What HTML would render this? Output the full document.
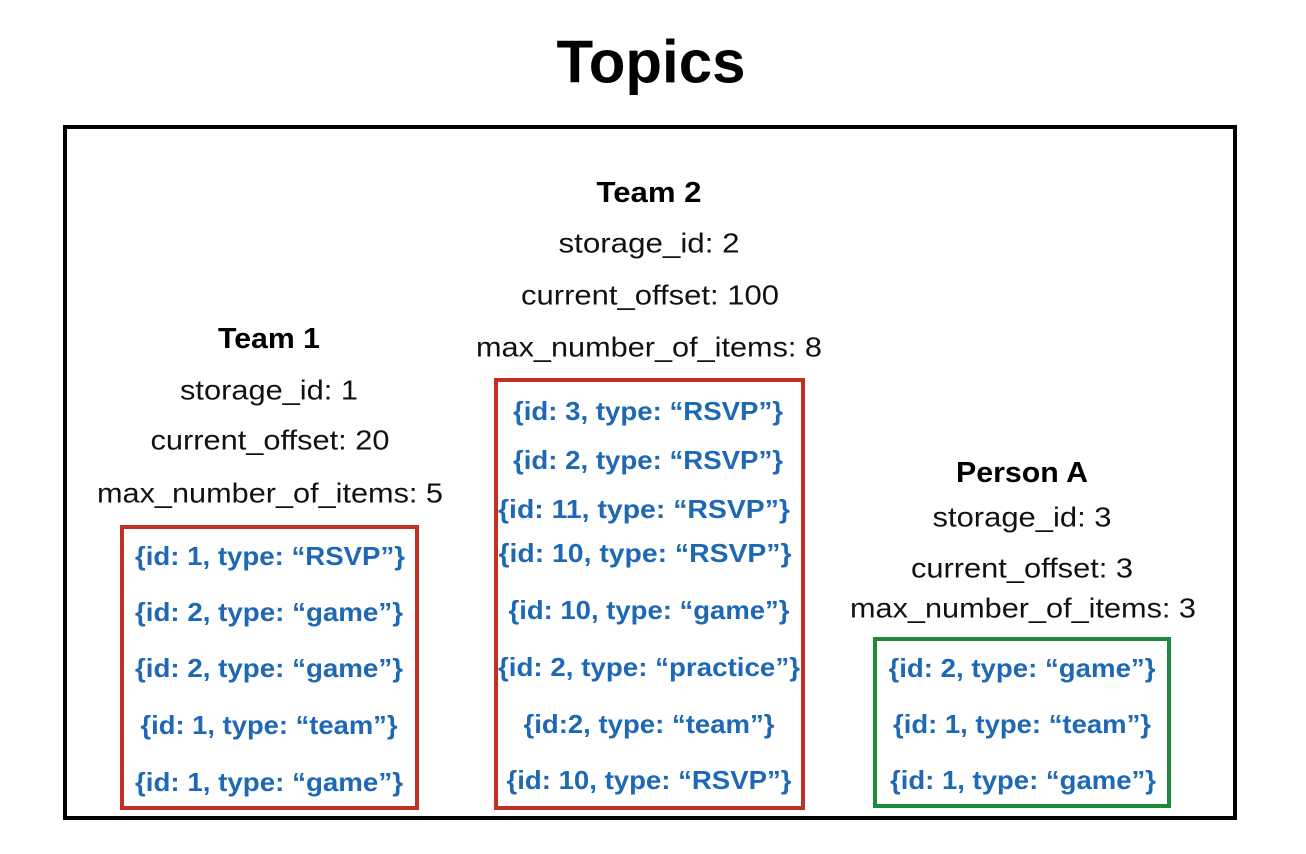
<!DOCTYPE html>
<html><head><meta charset="utf-8"><style>
html,body{margin:0;padding:0;background:#fff;}
svg{display:block;}
text{font-family:"Liberation Sans",Arial,sans-serif;text-anchor:middle;dominant-baseline:central;}
.b{font-weight:bold;font-size:29px;fill:#000;}
.r{font-size:28px;fill:#111;}
.i{font-weight:bold;font-size:26px;fill:#1e68b4;}
</style></head><body>
<svg width="1306" height="854" viewBox="0 0 1306 854">
<rect width="1306" height="854" fill="#fff"/>
<text x="651" y="62" style="font-weight:bold;font-size:60px;">Topics</text>
<rect x="65" y="127" width="1170" height="691" fill="none" stroke="#000" stroke-width="4"/>
<rect x="122" y="527" width="295" height="281" fill="none" stroke="#c13027" stroke-width="4"/>
<rect x="496" y="380" width="307" height="428" fill="none" stroke="#c13027" stroke-width="4"/>
<rect x="875" y="639" width="294" height="167" fill="none" stroke="#1e8a3c" stroke-width="4"/>

<g lengthAdjust="spacingAndGlyphs">
<text class="b" x="269" y="339" textLength="102" lengthAdjust="spacingAndGlyphs">Team 1</text>
<text class="r" x="269" y="390" textLength="178" lengthAdjust="spacingAndGlyphs">storage_id: 1</text>
<text class="r" x="270" y="440" textLength="239" lengthAdjust="spacingAndGlyphs">current_offset: 20</text>
<text class="r" x="270" y="493" textLength="346" lengthAdjust="spacingAndGlyphs">max_number_of_items: 5</text>
<text class="i" x="270" y="556" textLength="270" lengthAdjust="spacingAndGlyphs">{id: 1, type: “RSVP”}</text>
<text class="i" x="269" y="612" textLength="268" lengthAdjust="spacingAndGlyphs">{id: 2, type: “game”}</text>
<text class="i" x="269" y="668" textLength="268" lengthAdjust="spacingAndGlyphs">{id: 2, type: “game”}</text>
<text class="i" x="269" y="725" textLength="257" lengthAdjust="spacingAndGlyphs">{id: 1, type: “team”}</text>
<text class="i" x="269" y="782" textLength="268" lengthAdjust="spacingAndGlyphs">{id: 1, type: “game”}</text>

<text class="b" x="649" y="193" textLength="105" lengthAdjust="spacingAndGlyphs">Team 2</text>
<text class="r" x="649" y="243" textLength="181" lengthAdjust="spacingAndGlyphs">storage_id: 2</text>
<text class="r" x="650" y="295" textLength="258" lengthAdjust="spacingAndGlyphs">current_offset: 100</text>
<text class="r" x="649" y="347" textLength="346" lengthAdjust="spacingAndGlyphs">max_number_of_items: 8</text>
<text class="i" x="648" y="411" textLength="270" lengthAdjust="spacingAndGlyphs">{id: 3, type: “RSVP”}</text>
<text class="i" x="648" y="460" textLength="270" lengthAdjust="spacingAndGlyphs">{id: 2, type: “RSVP”}</text>
<text class="i" x="644" y="509" textLength="292" lengthAdjust="spacingAndGlyphs">{id: 11, type: “RSVP”}</text>
<text class="i" x="645" y="553" textLength="293" lengthAdjust="spacingAndGlyphs">{id: 10, type: “RSVP”}</text>
<text class="i" x="649" y="610" textLength="281" lengthAdjust="spacingAndGlyphs">{id: 10, type: “game”}</text>
<text class="i" x="649" y="667" textLength="302" lengthAdjust="spacingAndGlyphs">{id: 2, type: “practice”}</text>
<text class="i" x="649" y="724" textLength="251" lengthAdjust="spacingAndGlyphs">{id:2, type: “team”}</text>
<text class="i" x="649" y="780" textLength="285" lengthAdjust="spacingAndGlyphs">{id: 10, type: “RSVP”}</text>

<text class="b" x="1022" y="473" textLength="132" lengthAdjust="spacingAndGlyphs">Person A</text>
<text class="r" x="1022" y="517" textLength="179" lengthAdjust="spacingAndGlyphs">storage_id: 3</text>
<text class="r" x="1022" y="568" textLength="222" lengthAdjust="spacingAndGlyphs">current_offset: 3</text>
<text class="r" x="1023" y="608" textLength="346" lengthAdjust="spacingAndGlyphs">max_number_of_items: 3</text>
<text class="i" x="1022" y="668" textLength="267" lengthAdjust="spacingAndGlyphs">{id: 2, type: “game”}</text>
<text class="i" x="1022" y="724" textLength="258" lengthAdjust="spacingAndGlyphs">{id: 1, type: “team”}</text>
<text class="i" x="1023" y="780" textLength="266" lengthAdjust="spacingAndGlyphs">{id: 1, type: “game”}</text>
</g>
</svg>
</body></html>
